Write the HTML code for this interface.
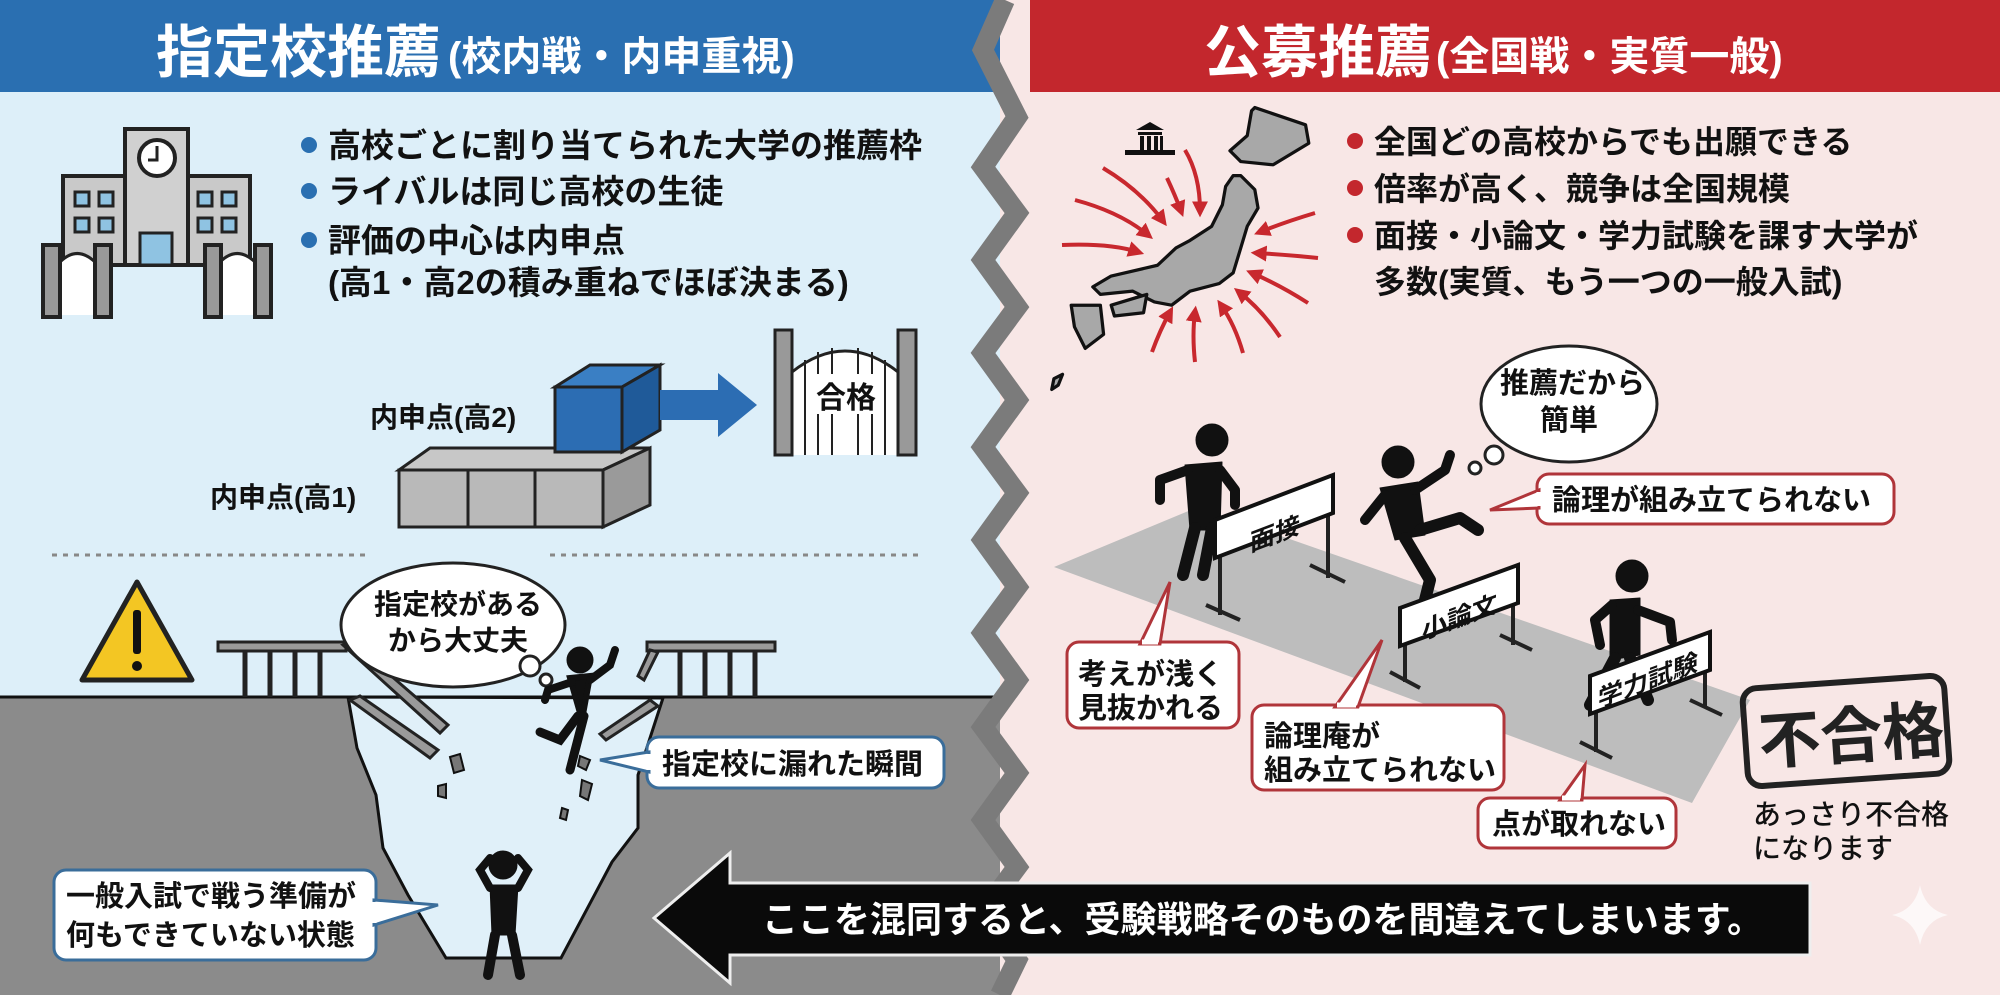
<!DOCTYPE html>
<html><head><meta charset="utf-8">
<style>
html,body{margin:0;padding:0;}
body{width:2000px;height:995px;overflow:hidden;}
svg{display:block;}
text{font-family:"Liberation Sans","Noto Sans CJK JP",sans-serif;font-weight:bold;fill:#111;}
</style></head>
<body>
<svg width="2000" height="995" viewBox="0 0 2000 995" xmlns="http://www.w3.org/2000/svg">
<defs>
<marker id="ah" viewBox="0 0 10 10" refX="6" refY="5" markerWidth="4" markerHeight="4" orient="auto"><path d="M0,0 L10,5 L0,10 z" fill="#c8282e"/></marker>
</defs>
<rect x="0" y="0" width="1000" height="995" fill="#ddeff9"/>
<rect x="1000" y="0" width="1000" height="995" fill="#f8e7e6"/>
<rect x="0" y="0" width="1000" height="92" fill="#2a6fb1"/>
<rect x="1000" y="0" width="1000" height="92" fill="#c3272d"/>
<rect x="0" y="697" width="1000" height="298" fill="#8b8b8b"/>
<line x1="0" y1="697" x2="1000" y2="697" stroke="#111" stroke-width="3"/>
<polygon points="1000,0 1030,0 1030,995 1000,995" fill="#f8e7e6"/>
<polyline points="1005,0 983,50 1017,117 983,167 1017,213 983,260 1017,307 983,353 1017,400 983,447 1017,493 983,540 1017,587 983,633 1017,680 983,727 1017,773 983,820 1017,867 983,913 1017,960 1000,995" fill="none" stroke="#7b7b7b" stroke-width="20" stroke-linejoin="miter"/>

<text x="156" y="72" font-size="57" style="fill:#fff">指定校推薦</text>
<text x="448" y="70" font-size="40" style="fill:#fff">(校内戦・内申重視)</text>
<text x="1204" y="72" font-size="57" style="fill:#fff">公募推薦</text>
<text x="1436" y="70" font-size="40" style="fill:#fff">(全国戦・実質一般)</text>

<g font-size="33">
<circle cx="309" cy="145" r="8" fill="#2a6fb1"/><text x="328" y="157">高校ごとに割り当てられた大学の推薦枠</text>
<circle cx="309" cy="191" r="8" fill="#2a6fb1"/><text x="328" y="203">ライバルは同じ高校の生徒</text>
<circle cx="309" cy="240" r="8" fill="#2a6fb1"/><text x="328" y="252">評価の中心は内申点</text>
<text x="328" y="294">(高1・高2の積み重ねでほぼ決まる)</text>
</g>
<g font-size="32">
<circle cx="1355" cy="141" r="8" fill="#c3272d"/><text x="1374" y="153">全国どの高校からでも出願できる</text>
<circle cx="1355" cy="188" r="8" fill="#c3272d"/><text x="1374" y="200">倍率が高く、競争は全国規模</text>
<circle cx="1355" cy="235" r="8" fill="#c3272d"/><text x="1374" y="247">面接・小論文・学力試験を課す大学が</text>
<text x="1374" y="293">多数(実質、もう一つの一般入試)</text>
</g>

<g stroke="#222" stroke-width="4">
<rect x="63" y="176" width="187" height="89" fill="#c9c9c9"/>
<rect x="125" y="129" width="63" height="136" fill="#d0d0d0"/>
<circle cx="157" cy="158" r="18" fill="#fff"/>
<path d="M157,146 V160 H148" fill="none" stroke-width="3"/>
<g fill="#8fc3e2" stroke-width="3">
<rect x="75" y="192" width="14" height="14"/><rect x="99" y="192" width="14" height="14"/>
<rect x="75" y="218" width="14" height="14"/><rect x="99" y="218" width="14" height="14"/>
<rect x="198" y="192" width="14" height="14"/><rect x="222" y="192" width="14" height="14"/>
<rect x="198" y="218" width="14" height="14"/><rect x="222" y="218" width="14" height="14"/>
<rect x="140" y="233" width="32" height="32"/>
</g>
<path d="M60,315 V262 Q77,245 95,262 V315" fill="#fff" stroke-width="3"/>
<path d="M220,315 V262 Q237,245 255,262 V315" fill="#fff" stroke-width="3"/>
<rect x="43" y="245" width="17" height="72" fill="#999"/>
<rect x="95" y="245" width="16" height="72" fill="#999"/>
<rect x="205" y="245" width="16" height="72" fill="#999"/>
<rect x="255" y="245" width="16" height="72" fill="#999"/>
</g>

<g stroke="#222" stroke-width="3">
<polygon points="399,470 430,448 650,448 603,470" fill="#c7c7c7"/>
<polygon points="603,470 650,448 650,505 603,527" fill="#9a9a9a"/>
<rect x="399" y="470" width="69" height="57" fill="#b9b9b9"/>
<rect x="468" y="470" width="67" height="57" fill="#b9b9b9"/>
<rect x="535" y="470" width="68" height="57" fill="#b9b9b9"/>
<polygon points="555,387 590,365 660,365 622,387" fill="#3a7fc4"/>
<polygon points="622,387 660,365 660,430 622,452" fill="#1f5a99"/>
<rect x="555" y="387" width="67" height="65" fill="#2c6db3"/>
</g>
<polygon points="660,390 718,390 718,373 757,405 718,437 718,420 660,420" fill="#2c6db3"/>
<g stroke="#222" stroke-width="3">
<path d="M792,455 V372 Q845,330 898,372 V455" fill="#fff"/>
<g stroke-width="2"><line x1="805" y1="360" x2="805" y2="455"/><line x1="818" y1="352" x2="818" y2="455"/><line x1="832" y1="348" x2="832" y2="455"/><line x1="858" y1="348" x2="858" y2="455"/><line x1="872" y1="352" x2="872" y2="455"/><line x1="885" y1="360" x2="885" y2="455"/></g>
<rect x="775" y="330" width="17" height="125" fill="#999"/>
<rect x="898" y="330" width="18" height="125" fill="#999"/>
</g>
<rect x="815" y="374" width="60" height="40" fill="#fff"/>
<text x="816" y="408" font-size="30">合格</text>
<text x="370" y="427" font-size="28">内申点(高2)</text>
<text x="210" y="507" font-size="28">内申点(高1)</text>

<line x1="52" y1="555" x2="365" y2="555" stroke="#888" stroke-width="3" stroke-dasharray="5,6"/>
<line x1="550" y1="555" x2="922" y2="555" stroke="#888" stroke-width="3" stroke-dasharray="5,6"/>

<polygon points="137,582 192,680 82,680" fill="#f3c623" stroke="#222" stroke-width="5" stroke-linejoin="round"/>
<rect x="133" y="610" width="8" height="44" rx="3" fill="#111"/>
<circle cx="137" cy="666" r="5" fill="#111"/>

<polygon points="348,697 357,748 376,795 383,848 408,895 446,958 561,958 612,862 638,828 638,775 663,698" fill="#e0f0f9" stroke="#111" stroke-width="3"/>
<g stroke="#222" stroke-width="3" fill="#9a9a9a">
<rect x="218" y="642" width="128" height="9"/>
<rect x="647" y="642" width="128" height="9"/>
</g>
<g stroke="#222" stroke-width="5">
<line x1="245" y1="651" x2="245" y2="697"/><line x1="270" y1="651" x2="270" y2="697"/><line x1="295" y1="651" x2="295" y2="697"/><line x1="320" y1="651" x2="320" y2="697"/>
<line x1="680" y1="651" x2="680" y2="697"/><line x1="705" y1="651" x2="705" y2="697"/><line x1="730" y1="651" x2="730" y2="697"/><line x1="755" y1="651" x2="755" y2="697"/>
</g>
<polygon points="343,645 352,642 448,725 440,733" fill="#9a9a9a" stroke="#222" stroke-width="3"/>
<polygon points="350,700 360,696 438,750 430,758" fill="#9a9a9a" stroke="#222" stroke-width="3"/>
<polygon points="650,700 658,706 606,740 600,734" fill="#9a9a9a" stroke="#222" stroke-width="3"/>
<polygon points="650,650 658,652 644,680 638,676" fill="#9a9a9a" stroke="#222" stroke-width="3"/>
<g fill="#777" stroke="#111" stroke-width="2">
<polygon points="450,757 460,754 464,770 454,773"/><polygon points="438,786 446,784 446,798 438,796"/>
<polygon points="580,756 590,760 586,770 578,766"/><polygon points="582,780 592,784 588,800 580,796"/><polygon points="562,808 568,810 566,820 560,818"/>
</g>
<g fill="#fff" stroke="#222" stroke-width="3">
<ellipse cx="453" cy="625" rx="112" ry="62"/>
<circle cx="530" cy="666" r="10"/><circle cx="546" cy="680" r="6"/>
</g>
<text x="374" y="614" font-size="28">指定校がある</text>
<text x="388" y="650" font-size="28">から大丈夫</text>
<g fill="#111" stroke="#111" stroke-linecap="round">
<circle cx="580" cy="660" r="13"/>
<path d="M570,678 L590,676 L582,720 Z" stroke-width="6"/>
<path d="M572,682 L548,690 L545,700" fill="none" stroke-width="8"/>
<path d="M590,680 L610,665 L615,650" fill="none" stroke-width="8"/>
<path d="M578,716 L560,740 L540,732" fill="none" stroke-width="9"/>
<path d="M584,716 L570,770" fill="none" stroke-width="9"/>
</g>
<g fill="#111" stroke="#111" stroke-linecap="round">
<circle cx="503" cy="865" r="14"/>
<path d="M490,885 L518,885 L515,935 L492,935 Z"/>
<path d="M490,888 L480,870 L490,858" fill="none" stroke-width="8"/>
<path d="M518,888 L528,870 L518,858" fill="none" stroke-width="8"/>
<path d="M495,935 L488,975" stroke-width="10"/><path d="M512,935 L520,975" stroke-width="10"/>
</g>
<g fill="#fff" stroke="#3a6d9a" stroke-width="3">
<rect x="647" y="737" width="297" height="51" rx="12"/>
<rect x="54" y="870" width="322" height="90" rx="12"/>
</g>
<polygon points="649,752 600,760 649,772" fill="#fff" stroke="#3a6d9a" stroke-width="3"/>
<line x1="649" y1="754" x2="649" y2="770" stroke="#fff" stroke-width="5"/>
<polygon points="374,900 438,905 374,925" fill="#fff" stroke="#3a6d9a" stroke-width="3"/>
<line x1="374" y1="902" x2="374" y2="923" stroke="#fff" stroke-width="5"/>
<text x="662" y="774" font-size="29">指定校に漏れた瞬間</text>
<text x="66" y="906" font-size="29">一般入試で戦う準備が</text>
<text x="66" y="945" font-size="29">何もできていない状態</text>

<g stroke="#c8282e" stroke-width="4" marker-end="url(#ah)" fill="none">
<path d="M1062,245 Q1110,243 1138,252"/>
<path d="M1075,200 Q1120,212 1148,235"/>
<path d="M1103,168 Q1140,190 1163,221"/>
<path d="M1167,178 Q1175,195 1181,211"/>
<path d="M1185,150 Q1200,175 1200,211"/>
<path d="M1315,213 Q1285,222 1260,232"/>
<path d="M1318,258 Q1290,255 1257,253"/>
<path d="M1308,303 Q1280,285 1252,273"/>
<path d="M1280,337 Q1262,310 1239,292"/>
<path d="M1243,353 Q1235,325 1221,305"/>
<path d="M1195,362 Q1192,335 1195,312"/>
<path d="M1152,352 Q1160,330 1170,312"/>
</g>
<g fill="#a8a8a8" stroke="#111" stroke-width="3" stroke-linejoin="round" transform="translate(1190,235) scale(1.08) translate(-1190,-235)">
<polygon points="1250,117 1297,133 1300,150 1267,170 1237,167 1227,157 1243,143 1247,120"/>
<polygon points="1237,180 1250,193 1253,210 1243,227 1237,247 1230,270 1217,280 1190,287 1173,300 1157,297 1137,287 1107,290 1100,283 1117,273 1160,263 1177,247 1190,240 1210,227 1220,207 1223,190 1230,180"/>
<polygon points="1080,300 1107,300 1110,327 1093,340 1083,320"/>
<polygon points="1117,300 1150,290 1147,307 1120,310"/>
<polygon points="1064,368 1072,364 1068,374 1062,378"/>
</g>
<g fill="#111">
<polygon points="1150,122 1164,130 1136,130"/>
<rect x="1138" y="132" width="24" height="3"/>
<rect x="1140" y="136" width="4" height="14"/><rect x="1147" y="136" width="4" height="14"/><rect x="1154" y="136" width="4" height="14"/><rect x="1160" y="136" width="3" height="14"/>
<rect x="1125" y="150" width="50" height="5"/>
</g>

<polygon points="1054,567 1198,507 1750,700 1692,803" fill="#bdbdbd"/>

<g fill="#111" stroke="#111" stroke-linecap="round" stroke-linejoin="round">
<circle cx="1212" cy="440" r="16"/>
<path d="M1185,465 L1222,462 L1220,530 L1190,530 Z"/>
<path d="M1188,470 L1160,480 L1160,500" fill="none" stroke-width="10"/>
<path d="M1220,470 L1235,490 L1235,505" fill="none" stroke-width="10"/>
<path d="M1195,528 L1183,575" fill="none" stroke-width="12"/><path d="M1212,528 L1203,575" fill="none" stroke-width="12"/>
<circle cx="1398" cy="462" r="16"/>
<path d="M1380,488 L1418,482 L1425,535 L1395,540 Z"/>
<path d="M1385,495 L1365,520" fill="none" stroke-width="10"/>
<path d="M1415,490 L1445,470 L1450,455" fill="none" stroke-width="10"/>
<path d="M1420,530 L1460,518 L1478,530" fill="none" stroke-width="12"/>
<path d="M1405,538 L1430,580 L1425,600" fill="none" stroke-width="12"/>
<circle cx="1632" cy="576" r="16"/>
<path d="M1610,600 L1640,598 L1640,655 L1610,660 Z"/>
<path d="M1612,605 L1595,620 L1600,645" fill="none" stroke-width="10"/>
<path d="M1638,610 L1670,622 L1672,640" fill="none" stroke-width="10"/>
<path d="M1615,658 L1590,705" fill="none" stroke-width="12"/><path d="M1630,658 L1648,700" fill="none" stroke-width="12"/>
</g>
<g stroke="#222" stroke-width="4">
<line x1="1220" y1="555" x2="1220" y2="615"/><line x1="1328" y1="515" x2="1328" y2="578"/>
<line x1="1206" y1="605" x2="1240" y2="620"/><line x1="1310" y1="565" x2="1345" y2="582"/>
<line x1="1405" y1="645" x2="1405" y2="682"/><line x1="1513" y1="605" x2="1513" y2="645"/>
<line x1="1390" y1="672" x2="1420" y2="688"/><line x1="1500" y1="635" x2="1532" y2="650"/>
<line x1="1596" y1="712" x2="1596" y2="752"/><line x1="1705" y1="672" x2="1705" y2="708"/>
<line x1="1580" y1="742" x2="1612" y2="758"/><line x1="1690" y1="700" x2="1722" y2="715"/>
</g>
<g fill="#fff" stroke="#111" stroke-width="4">
<polygon points="1215,520 1333,475 1333,513 1215,558"/>
<polygon points="1400,608 1518,565 1518,603 1400,646"/>
<polygon points="1590,676 1710,632 1710,670 1590,714"/>
</g>
<g font-size="25">
<text transform="matrix(1,-0.38,0,1,1250,552)">面接</text>
<text transform="matrix(1,-0.38,0,1,1422,640)">小論文</text>
<text transform="matrix(1,-0.38,0,1,1598,708)">学力試験</text>
</g>
<g fill="#fff" stroke="#222" stroke-width="3">
<ellipse cx="1569" cy="404" rx="88" ry="58"/>
<circle cx="1494" cy="455" r="9"/><circle cx="1475" cy="468" r="6"/>
</g>
<text x="1500" y="393" font-size="29">推薦だから</text>
<text x="1540" y="430" font-size="29">簡単</text>
<g fill="#fff" stroke="#b0353a" stroke-width="3">
<rect x="1537" y="474" width="357" height="50" rx="12"/>
<rect x="1067" y="642" width="172" height="86" rx="12"/>
<rect x="1252" y="705" width="252" height="85" rx="12"/>
<rect x="1478" y="798" width="198" height="50" rx="12"/>
</g>
<g fill="#fff" stroke="#b0353a" stroke-width="3">
<polygon points="1539,490 1490,510 1539,508"/>
<polygon points="1140,644 1170,582 1160,644"/>
<polygon points="1335,707 1382,640 1358,707"/>
<polygon points="1560,800 1585,765 1582,800"/>
</g>
<g stroke="#fff" stroke-width="5">
<line x1="1539" y1="492" x2="1539" y2="506"/>
<line x1="1142" y1="642" x2="1158" y2="642"/>
<line x1="1337" y1="705" x2="1356" y2="705"/>
<line x1="1562" y1="798" x2="1580" y2="798"/>
</g>
<text x="1552" y="510" font-size="29">論理が組み立てられない</text>
<text x="1078" y="684" font-size="29">考えが浅く</text>
<text x="1078" y="718" font-size="29">見抜かれる</text>
<text x="1264" y="746" font-size="29">論理庵が</text>
<text x="1264" y="780" font-size="29">組み立てられない</text>
<text x="1492" y="834" font-size="29">点が取れない</text>
<g transform="rotate(-4 1846 731)">
<rect x="1745" y="682" width="202" height="98" rx="14" fill="none" stroke="#222" stroke-width="6"/>
<text x="1758" y="758" font-size="62" style="fill:#222">不合格</text>
</g>
<text x="1753" y="824" font-size="28" style="font-weight:500">あっさり不合格</text>
<text x="1753" y="858" font-size="28" style="font-weight:500">になります</text>

<polygon points="654,918 730,853 730,883 1810,883 1810,955 730,955 730,983" fill="#0a0a0a" stroke="#eee" stroke-width="3"/>
<text x="762" y="932" font-size="36" style="fill:#fff">ここを混同すると、受験戦略そのものを間違えてしまいます。</text>
<path d="M1920,885 Q1925,910 1948,915 Q1925,920 1920,945 Q1915,920 1892,915 Q1915,910 1920,885 Z" fill="#fff" opacity="0.7"/>
</svg>
</body></html>
